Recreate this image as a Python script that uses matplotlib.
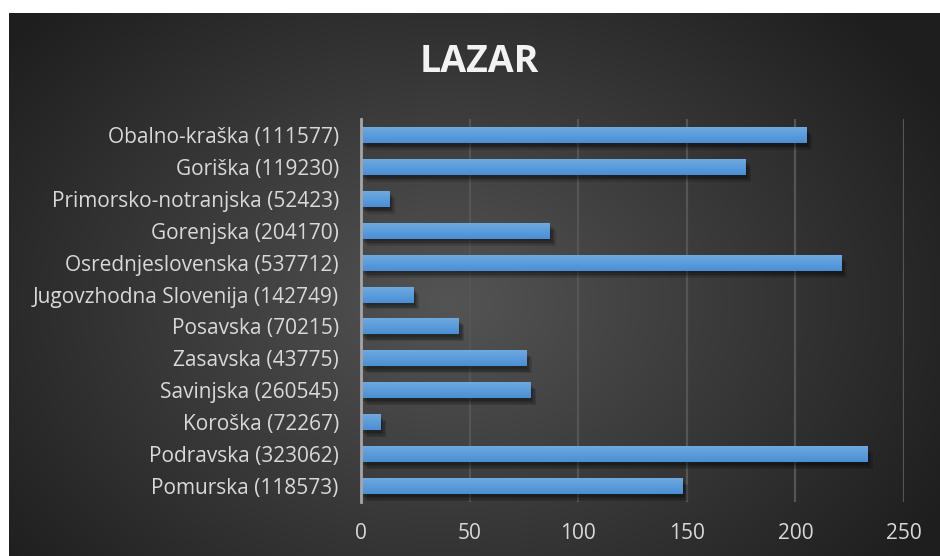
import numpy as np
import matplotlib
matplotlib.use("Agg")
import matplotlib.pyplot as plt
import matplotlib.patheffects as pe
from matplotlib.colors import LinearSegmentedColormap

regions = ["Pomurska (118573)", "Podravska (323062)", "Koroška (72267)",
           "Savinjska (260545)", "Zasavska (43775)", "Posavska (70215)",
           "Jugovzhodna Slovenija (142749)", "Osrednjeslovenska (537712)",
           "Gorenjska (204170)", "Primorsko-notranjska (52423)",
           "Goriška (119230)", "Obalno-kraška (111577)"]
votes = [148, 233, 9, 78, 76, 45, 24, 221, 87, 13, 177, 205]
xticks = [0, 50, 100, 150, 200, 250]

W, H = 940, 556
fig = plt.figure(figsize=(W / 100, H / 100), dpi=100)
fig.patch.set_facecolor("white")

# dark radial background (white strip on top and left)
bg = fig.add_axes([9 / W, 0, 1 - 9 / W, 1 - 13 / H])
yy, xx = np.mgrid[0:543, 0:931]
r = np.hypot((xx - 440) / 560, (yy - 290) / 420)
shade = np.clip(0.33 - 0.21 * r, 0.12, 0.33)
bg.imshow(np.dstack([shade] * 3), aspect="auto", extent=[0, 1, 0, 1])
bg.axis("off")

ax = fig.add_axes([361 / W, 1 - 502 / H, (904 - 361) / W, (502 - 119) / H])
ax.patch.set_alpha(0)
y = np.arange(len(regions))
grad = LinearSegmentedColormap.from_list("bar", ["#4a8fd6", "#6ea9e0"])
# soft drop shadow built from a few offset copies
shadow = [pe.SimplePatchShadow(offset=(d, -d - 1), shadow_rgbFace="black", alpha=0.14)
          for d in (1, 2, 3, 4)]
bars = ax.barh(y, votes, height=0.5, color="#5b9bd5", zorder=3,
               path_effects=shadow + [pe.Normal()])
for b in bars:
    x0, y0 = b.get_x(), b.get_y()
    im = ax.imshow(np.linspace(0, 1, 32).reshape(-1, 1), cmap=grad, aspect="auto",
                   extent=[x0, x0 + b.get_width(), y0, y0 + b.get_height()],
                   origin="lower", zorder=4)
    im.set_clip_path(b)

ax.set_xlim(0, 250)
ax.set_ylim(-0.5, len(regions) - 0.5)
ax.set_xticks(xticks)
ax.set_yticks(y)
ax.set_yticklabels(regions)
ax.grid(axis="x", color="#555555", linewidth=1.6, zorder=0)
for s in ["top", "right", "bottom"]:
    ax.spines[s].set_visible(False)
ax.spines["left"].set_color("#a6a6a6")
ax.spines["left"].set_linewidth(2)
ax.spines["left"].set_zorder(5)
ax.tick_params(length=0, labelcolor="#d9d9d9", labelsize=15)
ax.tick_params(axis="x", pad=15)
ax.tick_params(axis="y", pad=16)
for t in ax.get_xticklabels() + ax.get_yticklabels():
    t.set_fontfamily("Open Sans")

fig.text(479 / W, 1 - 62 / H, "LAZAR", ha="center", va="center", color="#f2f2f2",
         fontsize=27, fontweight="bold", fontfamily="Open Sans")

fig.savefig("out.png", dpi=100, facecolor=fig.get_facecolor())
